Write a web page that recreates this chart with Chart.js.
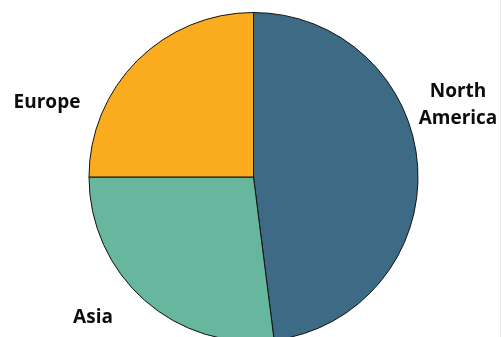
<!DOCTYPE html>
<html>
<head>
<meta charset="utf-8">
<script src="https://cdn.jsdelivr.net/npm/chart.js@4/dist/chart.umd.min.js"></script>
<style>
  html, body { margin: 0; padding: 0; background: #ffffff; overflow: hidden; }
  #wrap { position: relative; width: 503px; height: 337px; overflow: hidden; }
  #edge { position: absolute; left: 500px; top: 0; width: 1px; height: 337px; background: #ececec; }
</style>
</head>
<body>
<div id="wrap">
  <canvas id="chart" width="503" height="350"></canvas>
  <div id="edge"></div>
</div>
<script>
// Regional share, drawn clockwise from 12 o'clock
const regions = ['North America', 'Asia', 'Europe'];
const shares = [48, 27, 25];
const sliceColors = ['#3d6b85', '#66b79d', '#fbab1e'];

// Category labels placed beside the pie (multi-line where needed)
const labelPlugin = {
  id: 'outerLabels',
  afterDatasetsDraw(chart, args, opts) {
    const ctx = chart.ctx;
    ctx.save();
    ctx.font = 'bold 19px "Open Sans", sans-serif';
    ctx.fillStyle = '#0d0d0d';
    ctx.textAlign = 'center';
    ctx.textBaseline = 'middle';
    opts.spots.forEach((spot) => {
      const lines = spot.lines;
      const lh = 27;
      const y0 = spot.y - (lines.length - 1) * lh / 2;
      lines.forEach((ln, j) => ctx.fillText(ln, spot.x, y0 + j * lh));
    });
    ctx.restore();
  }
};

new Chart(document.getElementById('chart'), {
  type: 'pie',
  data: {
    labels: regions,
    datasets: [{
      data: shares,
      backgroundColor: sliceColors,
      borderColor: '#111111',
      borderWidth: 1
    }]
  },
  options: {
    responsive: false,
    animation: false,
    layout: { padding: { left: 88, right: 84, top: 12, bottom: 8 } },
    plugins: {
      legend: { display: false },
      tooltip: { enabled: false },
      outerLabels: {
        spots: [
          { lines: ['North', 'America'], x: 458, y: 105 },
          { lines: ['Asia'], x: 93, y: 318 },
          { lines: ['Europe'], x: 47, y: 103 }
        ]
      }
    }
  },
  plugins: [labelPlugin]
});
</script>
</body>
</html>
